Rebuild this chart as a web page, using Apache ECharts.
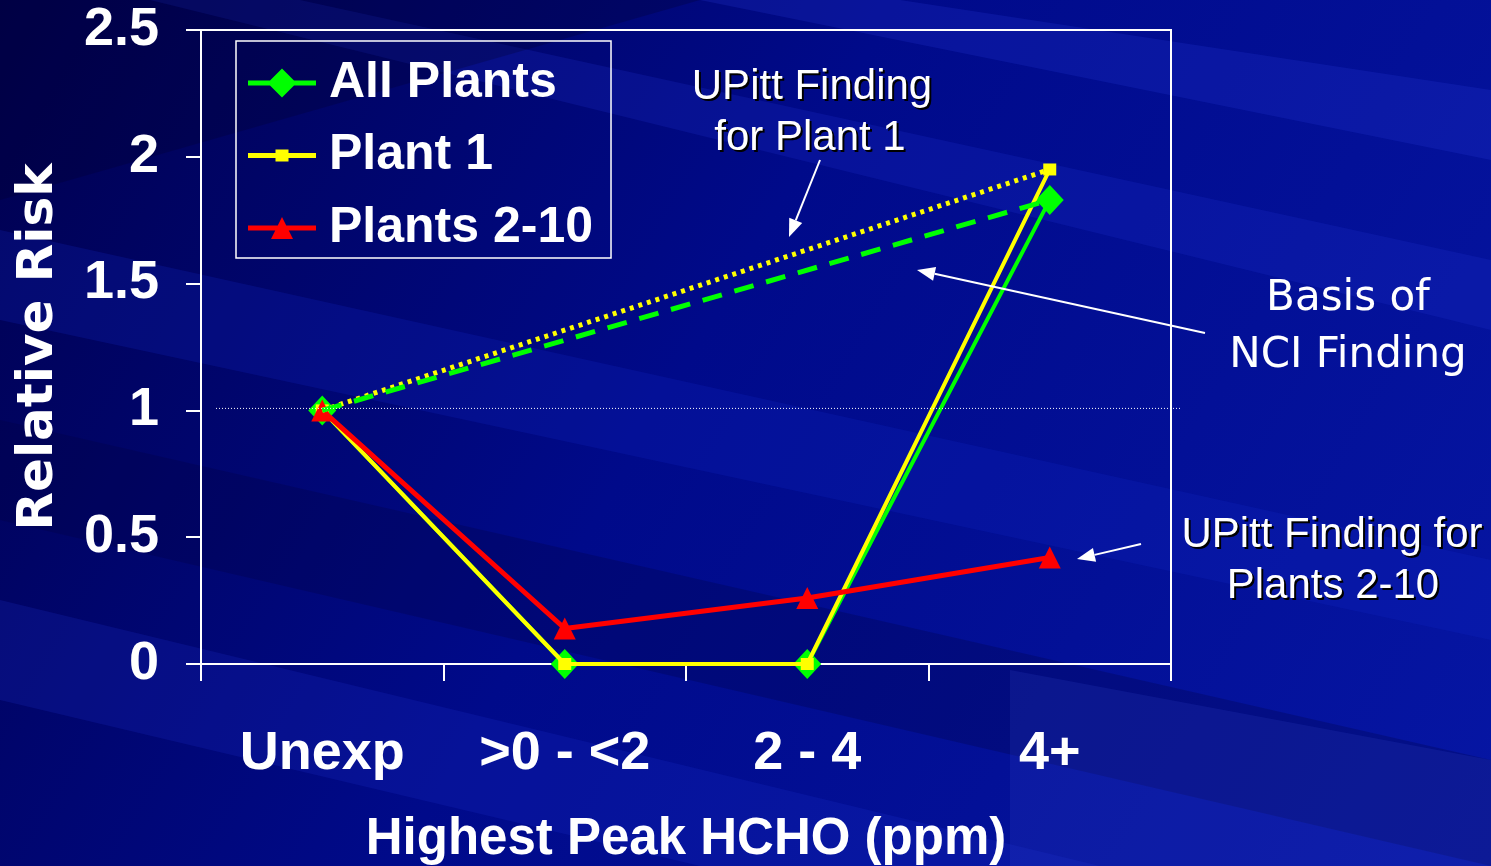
<!DOCTYPE html>
<html><head><meta charset="utf-8">
<script src="https://cdn.jsdelivr.net/npm/echarts@6/dist/echarts.min.js"></script>
<style>html,body{margin:0;padding:0;background:#000c8c;overflow:hidden;} #c{width:1491px;height:866px;}</style>
</head><body><div id="c"></div>
<script>
// ---- data ----
const categories = ['Unexp', '>0 - <2', '2 - 4', '4+'];
const allPlants = [1, 0, 0, 1.83];
const plant1 = [1, 0, 0, 1.95];
const plants2to10 = [1, 0.14, 0.26, 0.42];
const plant1Trend = [1, null, null, 1.95];
const allPlantsTrend = [1, null, null, 1.83];
const yMin = 0, yMax = 2.5, yStep = 0.5;
const referenceLevel = 1;
const seriesNames = ['All Plants', 'Plant 1', 'Plants 2-10'];

const SANS = '"Liberation Sans", Arial, sans-serif';
const chart = echarts.init(document.getElementById('c'), null, {renderer: 'canvas'});

const bg = [];
bg.push({type: 'rect', z: -100, silent: true, shape: {x: 0, y: 0, width: 1491, height: 866},
  style: {fill: new echarts.graphic.LinearGradient(0, 0, 1, 1, [
    {offset: 0, color: '#00004e'}, {offset: 0.45, color: '#000a8a'}, {offset: 1, color: '#0616a4'}])}});
const streaks = [
  [[0, 230], [1491, 560], [1491, 640], [0, 320], 'rgba(20,40,200,0.22)'],
  [[0, 420], [1491, 760], [1491, 866], [0, 520], 'rgba(0,0,60,0.25)'],
  [[300, 0], [1491, 260], [1491, 330], [150, 0], 'rgba(30,50,210,0.22)'],
  [[900, 0], [1491, 90], [1491, 160], [700, 0], 'rgba(40,60,220,0.22)'],
  [[0, 600], [1100, 866], [700, 866], [0, 700], 'rgba(30,50,210,0.2)'],
  [[1010, 670], [1491, 760], [1491, 866], [1010, 866], 'rgba(60,80,220,0.16)'],
  [[0, 0], [700, 0], [0, 200], [0, 0], 'rgba(0,0,40,0.25)']
];
streaks.forEach(s => bg.push({type: 'polygon', z: -90, silent: true,
  shape: {points: s.slice(0, 4)}, style: {fill: s[4]}}));

const legendIcons = {
  'All Plants': 'path://M0 12 L68 12 L68 17 L0 17 Z M34 0 L48.5 14.5 L34 29 L19.5 14.5 Z',
  'Plant 1': 'path://M0 12 L68 12 L68 17 L0 17 Z M27.5 8.5 L40.5 8.5 L40.5 20.5 L27.5 20.5 Z',
  'Plants 2-10': 'path://M0 12 L68 12 L68 17 L0 17 Z M34 3.5 L45 25.5 L23 25.5 Z'
};

chart.setOption({
  animation: false,
  grid: {left: 201, right: 320, top: 30, bottom: 202, outerBoundsMode: 'none', containLabel: false,
         show: true, borderColor: '#ffffff', borderWidth: 2, backgroundColor: 'transparent'},
  legend: {
    data: seriesNames.map(n => ({name: n, icon: legendIcons[n]})),
    orient: 'vertical', left: 236, top: 41,
    padding: [17, 18, 5, 12], itemWidth: 68, itemHeight: 29, itemGap: 22.5,
    borderColor: '#ffffff', borderWidth: 1.5,
    textStyle: {color: '#ffffff', fontFamily: SANS, fontWeight: 'bold', fontSize: 50, lineHeight: 50, padding: [0, 0, 0, 8]}
  },
  xAxis: {
    type: 'category', data: categories, boundaryGap: true,
    axisLine: {lineStyle: {color: '#ffffff', width: 2}},
    axisTick: {show: true, interval: 0, length: 17, lineStyle: {color: '#ffffff', width: 2}},
    axisLabel: {interval: 0, color: '#ffffff', fontFamily: SANS, fontWeight: 'bold', fontSize: 54, margin: 63},
    name: 'Highest Peak HCHO (ppm)', nameLocation: 'middle', nameGap: 150,
    nameTextStyle: {color: '#ffffff', fontFamily: SANS, fontWeight: 'bold', fontSize: 51}
  },
  yAxis: {
    type: 'value', min: yMin, max: yMax, interval: yStep,
    axisLine: {show: true, lineStyle: {color: '#ffffff', width: 2}},
    axisTick: {show: true, length: 15, lineStyle: {color: '#ffffff', width: 2}},
    splitLine: {show: false},
    axisLabel: {color: '#ffffff', fontFamily: SANS, fontWeight: 'bold', fontSize: 54, margin: 42, padding: [16, 0, 0, 0]},
    name: 'Relative Risk', nameLocation: 'middle', nameGap: 137, nameRotate: 90,
    nameTextStyle: {color: '#ffffff', fontFamily: '"DejaVu Sans", sans-serif', fontWeight: 'bold', fontSize: 50}
  },
  series: [
    {name: 'All Plants', type: 'line', data: allPlants, z: 3,
     symbol: 'diamond', symbolSize: [28, 30], lineStyle: {color: '#00ff00', width: 4},
     itemStyle: {color: '#00ff00'}},
    {name: 'Plant 1', type: 'line', data: plant1, z: 4,
     symbol: 'rect', symbolSize: [13, 12], lineStyle: {color: '#ffff00', width: 4},
     itemStyle: {color: '#ffff00'}},
    {name: 'Plants 2-10', type: 'line', data: plants2to10, z: 5,
     symbol: 'triangle', symbolSize: [22, 22], lineStyle: {color: '#ff0000', width: 5},
     itemStyle: {color: '#ff0000'}},
    {name: 'Plant 1 trend', type: 'line', data: plant1Trend, connectNulls: true, z: 6,
     symbol: 'none', lineStyle: {color: '#ffff00', width: 5, type: [4, 5]}},
    {name: 'All Plants trend', type: 'line', data: allPlantsTrend, connectNulls: true, z: 6,
     symbol: 'none', lineStyle: {color: '#00ff00', width: 5, type: [20, 13]}}
  ],
  graphic: bg
});

// reference line at RR = 1 (position from the axis scale)
const yRef = chart.convertToPixel({yAxisIndex: 0}, referenceLevel);
const g = [];
g.push({type: 'line', z: 10, silent: true, shape: {x1: 216, y1: yRef - 2, x2: 1181, y2: yRef - 2},
  style: {stroke: '#ffffff', lineWidth: 1, lineDash: [1, 2]}});

function shadowText(txt, x, y, font, shadow) {
  if (shadow) g.push({type: 'text', z: 10, silent: true, x: x + 2, y: y + 2,
    style: {text: txt, fill: '#000000', font: font, align: 'center', verticalAlign: 'middle'}});
  g.push({type: 'text', z: 11, silent: true, x: x, y: y,
    style: {text: txt, fill: '#ffffff', font: font, align: 'center', verticalAlign: 'middle'}});
}
const ARIAL = '42px "Liberation Sans", Arial, sans-serif';
const TAH = '42px "DejaVu Sans", sans-serif';
shadowText('UPitt Finding', 812, 87, ARIAL, true);
shadowText('for Plant 1', 810, 138, ARIAL, true);
shadowText('Basis of', 1348, 299, TAH, false);
shadowText('NCI Finding', 1348, 356, TAH, false);
shadowText('UPitt Finding for', 1332, 535, ARIAL, true);
shadowText('Plants 2-10', 1333, 586, ARIAL, true);

function arrow(x1, y1, x2, y2) {
  const dx = x2 - x1, dy = y2 - y1, L = Math.hypot(dx, dy);
  const ux = dx / L, uy = dy / L, hl = 18, hw = 7;
  const bx = x2 - ux * hl, by = y2 - uy * hl;
  g.push({type: 'line', z: 10, silent: true, shape: {x1: x1, y1: y1, x2: bx, y2: by},
    style: {stroke: '#ffffff', lineWidth: 2}});
  g.push({type: 'polygon', z: 10, silent: true,
    shape: {points: [[x2, y2], [bx - uy * hw, by + ux * hw], [bx + uy * hw, by - ux * hw]]},
    style: {fill: '#ffffff'}});
}
arrow(820, 160, 789, 237);
arrow(1205, 333, 917, 270);
arrow(1141, 544, 1077, 559);

chart.setOption({graphic: bg.concat(g)});
</script></body></html>
